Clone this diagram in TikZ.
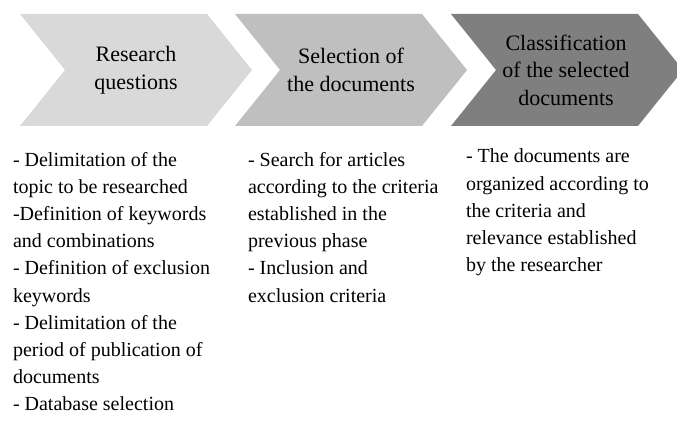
\documentclass[tikz,border=0pt]{standalone}
\usepackage{fontspec}
\setmainfont{Liberation Serif}
\definecolor{phaseA}{HTML}{D9D9D9}
\definecolor{phaseB}{HTML}{BFBFBF}
\definecolor{phaseC}{HTML}{7F7F7F}

\begin{document}
\begin{tikzpicture}[x=0.75pt, y=-0.75pt, every node/.style={inner sep=0pt, outer sep=0pt}, head/.style={align=center, font=\fontsize{16.5}{20.6}\selectfont}, notes/.style={align=left, anchor=north west, font=\fontsize{15}{20.4}\selectfont}]
\useasboundingbox (0,0) rectangle (677,423);
\fill[phaseA] (20,14) -- (207,14) -- (252,70) -- (207,126) -- (20,126) -- (65,70) -- cycle;
\fill[phaseB] (235,14) -- (422,14) -- (467,70) -- (422,126) -- (235,126) -- (280,70) -- cycle;
\fill[phaseC] (451,14) -- (638,14) -- (683,70) -- (638,126) -- (451,126) -- (496,70) -- cycle;
\node[head] (research) at (136,70) {Research\\questions};
\node[head] (selection) at (351,70) {Selection of\\the documents};
\node[head] (classification) at (566,70) {Classification\\of the selected\\documents};
\node[notes] (researchnotes) at (13,152) {- Delimitation of the\\topic to be researched\\-Definition of keywords\\and combinations\\- Definition of exclusion\\keywords\\- Delimitation of the\\period of publication of\\documents\\- Database selection};
\node[notes] (selectionnotes) at (248,152) {- Search for articles\\according to the criteria\\established in the\\previous phase\\- Inclusion and\\exclusion criteria};
\node[notes] (classificationnotes) at (466,149) {- The documents are\\organized according to\\the criteria and\\relevance established\\by the researcher};
\end{tikzpicture}
\end{document}
